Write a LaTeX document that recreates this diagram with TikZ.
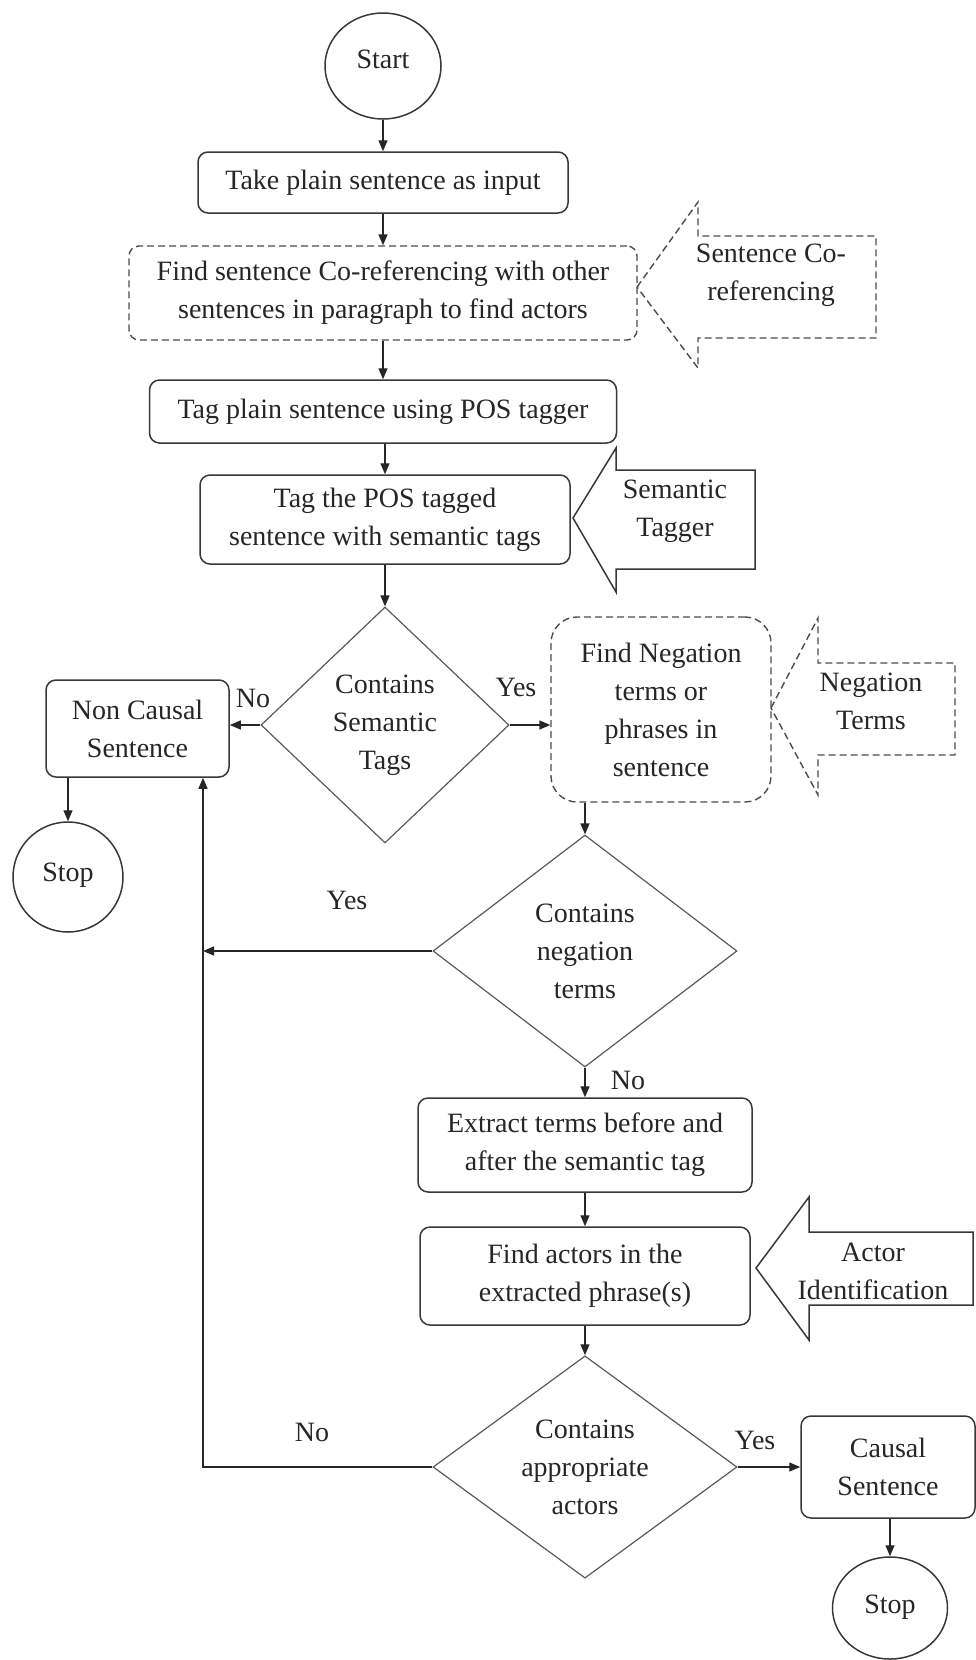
\documentclass[tikz,border=0pt]{standalone}
\usepackage{fontspec}
\setmainfont{Liberation Serif}
\usetikzlibrary{shapes.geometric,arrows.meta}
\begin{document}
\begin{tikzpicture}[x=1pt,y=-1pt,
  font=\fontsize{28}{38}\selectfont,
  txt/.style={text=black!85},
  boxline/.style={draw=black!78,line width=1.5pt},
  thinline/.style={draw=black!65,line width=1.2pt},
  dashline/.style={draw=black!70,line width=1.4pt,dash pattern=on 7pt off 4pt},
  arr/.style={draw=black!85,line width=1.4pt,-{Triangle[length=11pt,width=9pt]}},
  procbox/.style={boxline,txt,rounded corners=10pt,align=center,inner sep=0pt},
  dprocbox/.style={dashline,txt,rounded corners=10pt,align=center,inner sep=0pt},
  decision/.style={thinline,txt,diamond,align=center,inner sep=0pt},
  terminal/.style={boxline,txt,ellipse,inner sep=0pt},
  tag/.style={txt,inner sep=0pt},
  note/.style={txt,align=center,inner sep=0pt}]

\useasboundingbox (0,0) rectangle (976,1660);

% main column
\node[terminal,minimum width=116pt,minimum height=106pt] (start) at (383,66) {\raisebox{14pt}{Start}};
\node[procbox,minimum width=370pt,minimum height=61pt] (take) at (383,182.5) {Take plain sentence as input};
\node[dprocbox,minimum width=508pt,minimum height=94pt] (coref) at (383,293)
  {Find sentence Co-referencing with other\\sentences in paragraph to find actors};
\node[procbox,minimum width=467pt,minimum height=63pt] (postag) at (383,411.5) {Tag plain sentence using POS tagger};
\node[procbox,minimum width=370pt,minimum height=89pt] (semtag) at (385,519.5)
  {Tag the POS tagged\\sentence with semantic tags};
\node[decision,minimum width=248pt,minimum height=236pt] (d1) at (385,725) {Contains\\Semantic\\Tags};
\node[procbox,minimum width=183pt,minimum height=97pt] (noncausal) at (137.5,728.5) {Non Causal\\Sentence};
\node[terminal,minimum width=110pt,minimum height=110pt] (stop1) at (68,877) {\raisebox{10pt}{Stop}};
\node[dprocbox,rounded corners=26pt,minimum width=220pt,minimum height=185pt] (negfind) at (661,709.5)
  {Find Negation\\terms or\\phrases in\\sentence};
\node[decision,minimum width=304pt,minimum height=232pt] (d2) at (585,951) {Contains\\negation\\terms};
\node[procbox,minimum width=334pt,minimum height=94pt] (extract) at (585,1145)
  {Extract terms before and\\after the semantic tag};
\node[procbox,minimum width=330pt,minimum height=98pt] (actors) at (585,1276)
  {Find actors in the\\extracted phrase(s)};
\node[decision,minimum width=304pt,minimum height=220pt] (d3) at (585,1467) {Contains\\appropriate\\actors};
\node[procbox,minimum width=174pt,minimum height=102pt] (causal) at (888,1467) {Causal\\Sentence};
\node[terminal,minimum width=115pt,minimum height=102pt] (stop2) at (890,1608) {\raisebox{7pt}{Stop}};

% side callout arrows
\draw[dashline] (637,287) -- (698,202) -- (698,236) -- (876,236) -- (876,338)
  -- (698,338) -- (698,368) -- cycle;
\node[note] (corefnote) at (771,275) {Sentence Co-\\referencing};
\draw[boxline] (573,518) -- (616,448) -- (616,470) -- (755,470) -- (755,569)
  -- (616,569) -- (616,592) -- cycle;
\node[note] (semnote) at (675,511) {Semantic\\Tagger};
\draw[dashline] (771,708) -- (818,618) -- (818,663) -- (955,663) -- (955,755)
  -- (818,755) -- (818,795) -- cycle;
\node[note] (negnote) at (871,701) {Negation\\Terms};
\draw[boxline] (756,1268) -- (809,1197) -- (809,1232) -- (973,1232) -- (973,1305)
  -- (809,1305) -- (809,1340) -- cycle;
\node[note] (actnote) at (873,1271) {Actor\\Identification};

% connectors
\coordinate (loopx) at (203,0);
\draw[arr] (start.south) -- (take.north);
\draw[arr] (take.south) -- (coref.north);
\draw[arr] (coref.south) -- (postag.north);
\draw[arr] (postag.south -| semtag.north) -- (semtag.north);
\draw[arr] (semtag.south) -- (d1.north);
\draw[arr] (d1.west) -- (d1.west -| noncausal.east);
\draw[arr] (d1.east) -- (d1.east -| negfind.west);
\draw[arr] (noncausal.south -| stop1.north) -- (stop1.north);
\draw[arr] (negfind.south -| d2.north) -- (d2.north);
\draw[arr] (d2.west) -- (d2.west -| loopx);
\draw[arr] (d2.south) -- (extract.north);
\draw[arr] (extract.south) -- (actors.north);
\draw[arr] (actors.south) -- (d3.north);
\draw[arr] (d3.east) -- (causal.west);
\draw[arr] (causal.south -| stop2.north) -- (stop2.north);
\draw[arr] (d3.west) -- (d3.west -| loopx) -- (loopx |- noncausal.south);

% branch labels
\node[tag] (l1) at (253,698) {No};
\node[tag] (l2) at (516,687) {Yes};
\node[tag] (l3) at (347,900) {Yes};
\node[tag] (l4) at (628,1080) {No};
\node[tag] (l5) at (755,1440) {Yes};
\node[tag] (l6) at (312,1432) {No};
\end{tikzpicture}
\end{document}
